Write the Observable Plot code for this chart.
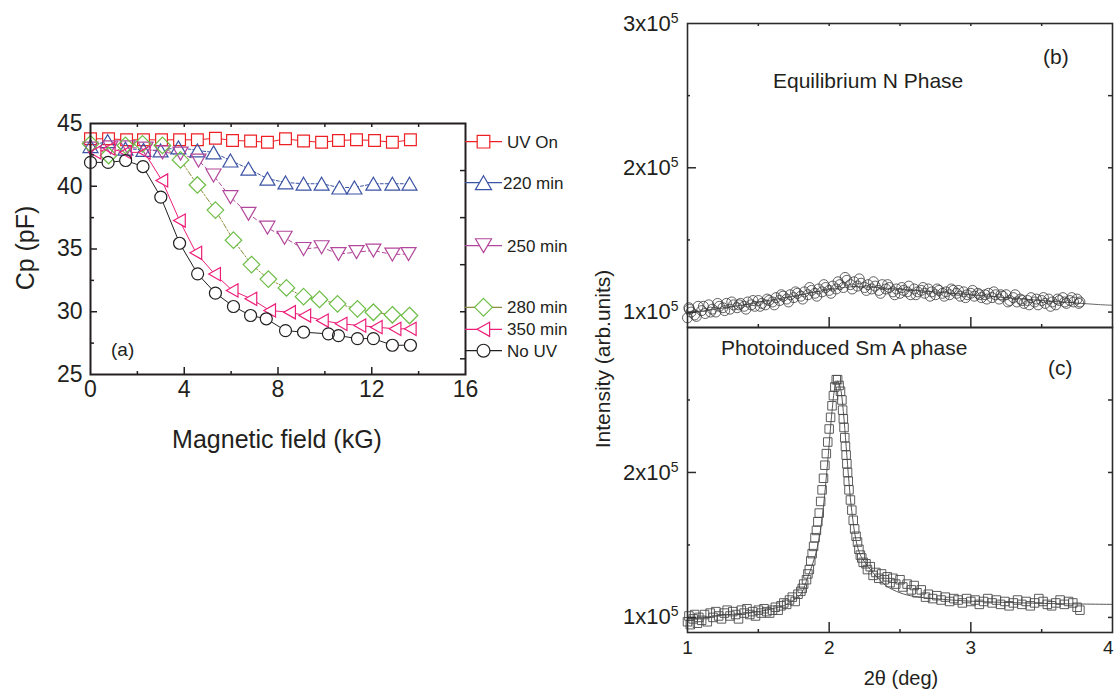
<!DOCTYPE html>
<html>
<head>
<meta charset="utf-8">
<script src="https://cdn.jsdelivr.net/npm/d3@7"></script>
<script src="https://cdn.jsdelivr.net/npm/@observablehq/plot@0.6"></script>
<style>
html,body{margin:0;padding:0;background:#fff;}
#root{position:relative;width:1114px;height:699px;overflow:hidden;background:#fff;font-family:"Liberation Sans",Arial,Helvetica,sans-serif;}
#root .panel{position:absolute;}
#root .panel svg{display:block;}
#overlay{position:absolute;left:0;top:0;pointer-events:none;}
</style>
</head>
<body>
<div id="root"></div>
<script>
// ================= DATA =================
// Panel (a): capacitance Cp (pF) vs magnetic field (kG)
const seriesLabels = ["UV On", "220 min", "250 min", "280 min", "350 min", "No UV"];

const fieldUVOn = [0,0.77,1.54,2.26,3.03,3.8,4.56,5.33,6.06,6.83,7.55,8.32,9.09,9.86,10.58,11.35,12.12,12.88,13.65];
const capUVOn   = [43.78,43.78,43.7,43.7,43.7,43.7,43.7,43.83,43.65,43.6,43.5,43.78,43.6,43.5,43.65,43.7,43.65,43.5,43.7];

const field220 = [0,0.73,1.49,2.26,2.99,3.75,4.56,5.25,5.97,6.74,7.55,8.32,9.09,9.86,10.62,11.26,12.07,12.88,13.61];
const cap220   = [43.2,43.6,43.0,42.9,42.85,43.1,42.85,42.7,42.05,41.4,40.6,40.3,40.2,40.2,39.9,39.9,40.2,40.2,40.2];

const field250 = [0,0.85,1.58,2.35,3.07,3.84,4.61,5.25,5.97,6.74,7.55,8.28,9.09,9.86,10.58,11.35,12.07,12.88,13.57];
const cap250   = [43.0,43.1,43.1,43.0,42.7,42.6,42.05,40.86,39.13,37.8,36.7,35.9,35.0,35.14,34.6,34.75,34.88,34.56,34.6];

const field280 = [0,0.77,1.49,2.22,3.07,3.84,4.56,5.33,6.1,6.87,7.59,8.36,9.09,9.77,10.54,11.39,12.07,12.88,13.61];
const cap280   = [43.38,42.45,43.25,43.38,43.25,42.1,40.1,38.1,35.7,33.76,32.6,31.9,31.2,30.98,30.63,30.23,29.96,29.76,29.7];

const field350 = [0.2,0.8,1.5,2.3,3.05,3.8,4.5,5.3,6.05,6.85,7.65,8.5,9.15,9.9,10.7,11.5,12.2,13.0,13.65];
const cap350   = [42.7,43.0,42.7,42.7,40.46,37.27,34.7,33.0,31.7,31.03,30.1,29.96,29.7,29.3,29.04,28.9,28.77,28.64,28.64];

const fieldNoUV = [0,0.75,1.5,2.24,3.0,3.8,4.57,5.33,6.1,6.83,7.5,8.32,9.09,10.15,10.58,11.39,12.07,12.88,13.65];
const capNoUV   = [41.9,41.9,42.05,41.57,39.13,35.46,33.02,31.48,30.42,29.7,29.44,28.5,28.37,28.24,28.1,27.86,27.86,27.33,27.33];

const fieldTicks = [0, 4, 8, 12, 16];
const fieldMinorTicks = [2, 6, 10, 14];
const fieldTopTicks = [2, 4, 6, 8, 10, 12, 14];
const capTicks = [25, 30, 35, 40, 45];
const capMinorTicks = [27.5, 32.5, 37.5, 42.5];
const capRightTicks = [26.25, 30, 33.75, 37.5, 41.25];

// Panel (b): equilibrium N phase, [2theta (deg), intensity (x10^5)]
const eqNScatter = [
[1.000,0.96],[1.010,1.03],[1.025,1.00],[1.050,0.98],[1.075,1.04],[1.100,1.01],[1.125,0.99],[1.150,1.05],[1.175,1.02],[1.200,1.00],
[1.225,1.04],[1.250,1.03],[1.275,1.06],[1.300,1.02],[1.325,1.05],[1.350,1.03],[1.375,1.06],[1.400,1.04],[1.425,1.07],[1.450,1.05],
[1.475,1.04],[1.500,1.08],[1.525,1.06],[1.550,1.05],[1.575,1.08],[1.600,1.07],[1.625,1.10],[1.650,1.08],[1.675,1.11],[1.700,1.09],
[1.725,1.12],[1.750,1.10],[1.775,1.13],[1.800,1.11],[1.825,1.14],[1.850,1.12],[1.875,1.15],[1.900,1.13],[1.925,1.16],[1.950,1.14],
[1.975,1.17],[2.000,1.15],[2.025,1.18],[2.050,1.16],[2.075,1.19],[2.100,1.17],[2.125,1.22],[2.150,1.19],[2.175,1.21],[2.200,1.18],
[2.225,1.20],[2.250,1.17],[2.275,1.19],[2.300,1.16],[2.325,1.18],[2.350,1.15],[2.375,1.19],[2.400,1.16],[2.425,1.17],[2.450,1.14],
[2.475,1.16],[2.500,1.13],[2.525,1.15],[2.550,1.14],[2.575,1.12],[2.600,1.16],[2.625,1.14],[2.650,1.15],[2.675,1.13],[2.700,1.16],
[2.725,1.14],[2.750,1.12],[2.775,1.15],[2.800,1.13],[2.825,1.14],[2.850,1.12],[2.875,1.15],[2.900,1.13],[2.925,1.11],[2.950,1.14],
[2.975,1.12],[3.000,1.13],[3.025,1.11],[3.050,1.13],[3.075,1.10],[3.100,1.12],[3.125,1.13],[3.150,1.10],[3.175,1.12],[3.200,1.09],
[3.225,1.11],[3.250,1.12],[3.275,1.08],[3.300,1.10],[3.325,1.07],[3.350,1.09],[3.375,1.06],[3.400,1.08],[3.425,1.10],[3.450,1.07],
[3.475,1.05],[3.500,1.08],[3.525,1.06],[3.550,1.09],[3.575,1.07],[3.600,1.05],[3.625,1.08],[3.650,1.10],[3.675,1.06],[3.700,1.08],
[3.725,1.07],[3.750,1.09],[3.770,1.07],
[1.0125,1.02],[1.0625,0.97],[1.1125,1.04],[1.1625,1.00],[1.2125,1.06],[1.2625,1.01],[1.3125,1.07],[1.3625,1.05],[1.4125,1.02],[1.4625,1.08],
[1.5125,1.04],[1.5625,1.09],[1.6125,1.05],[1.6625,1.12],[1.7125,1.07],[1.7625,1.14],[1.8125,1.09],[1.8625,1.17],[1.9125,1.11],[1.9625,1.19],
[2.0125,1.13],[2.0625,1.21],[2.1125,1.24],[2.1625,1.16],[2.2125,1.23],[2.2625,1.15],[2.3125,1.21],[2.3625,1.13],[2.4125,1.19],[2.4625,1.12],
[2.5125,1.17],[2.5625,1.18],[2.6125,1.12],[2.6625,1.17],[2.7125,1.11],[2.7625,1.16],[2.8125,1.11],[2.8625,1.16],[2.9125,1.15],[2.9625,1.10],
[3.0125,1.15],[3.0625,1.12],[3.1125,1.09],[3.1625,1.14],[3.2125,1.12],[3.2625,1.07],[3.3125,1.12],[3.3625,1.08],[3.4125,1.05],[3.4625,1.09],
[3.5125,1.10],[3.5625,1.04],[3.6125,1.09],[3.6625,1.07],[3.7125,1.10],[3.7625,1.06]
];
const eqNFit = [[1.0,0.99],[1.2,1.02],[1.4,1.05],[1.6,1.085],[1.8,1.12],[2.0,1.155],[2.15,1.175],[2.3,1.172],[2.5,1.158],[2.7,1.143],
[2.9,1.128],[3.1,1.112],[3.3,1.096],[3.5,1.08],[3.7,1.066],[3.9,1.052],[4.0,1.047]];

// Panel (c): photoinduced Sm A phase, [2theta (deg), intensity (x10^5)]
const smAScatter = [
[1.00,0.97],[1.01,1.01],[1.02,0.95],[1.04,0.99],[1.05,1.02],[1.07,0.96],[1.08,1.00],[1.10,0.98],[1.12,1.02],[1.14,0.97],
[1.16,1.03],[1.18,1.00],[1.20,1.04],[1.22,1.01],[1.24,0.99],[1.26,1.03],[1.28,1.05],[1.30,1.01],[1.32,1.04],[1.34,1.02],
[1.36,0.99],[1.38,1.05],[1.40,1.03],[1.42,1.06],[1.44,1.02],[1.46,1.04],[1.48,1.01],[1.50,1.05],[1.52,1.03],[1.54,1.06],
[1.56,1.04],[1.58,1.03],[1.60,1.05],[1.62,1.07],[1.64,1.05],[1.66,1.08],[1.68,1.10],[1.70,1.09],[1.72,1.12],[1.74,1.14],
[1.76,1.11],[1.78,1.16],[1.80,1.18],[1.81,1.20],[1.82,1.23],[1.84,1.26],[1.85,1.30],[1.86,1.33],[1.87,1.39],[1.88,1.44],
[1.89,1.49],[1.90,1.55],[1.91,1.60],[1.92,1.66],[1.93,1.72],[1.94,1.80],[1.95,1.88],[1.96,1.96],[1.97,2.05],[1.98,2.13],
[1.99,2.21],[2.00,2.30],[2.01,2.38],[2.02,2.46],[2.03,2.53],[2.04,2.59],[2.05,2.64],[2.06,2.64],[2.07,2.60],[2.08,2.56],
[2.09,2.50],[2.095,2.43],[2.10,2.37],[2.105,2.31],[2.11,2.24],[2.115,2.18],[2.12,2.12],[2.125,2.06],[2.13,2.00],[2.135,1.94],
[2.14,1.88],[2.15,1.81],[2.16,1.74],[2.17,1.67],[2.18,1.61],[2.19,1.56],[2.20,1.52],[2.21,1.47],[2.22,1.43],[2.23,1.41],
[2.24,1.38],[2.26,1.37],[2.27,1.33],[2.29,1.35],[2.31,1.29],[2.33,1.31],[2.35,1.27],[2.37,1.30],[2.39,1.26],[2.41,1.28],
[2.43,1.24],[2.45,1.27],[2.47,1.23],[2.50,1.26],[2.52,1.21],[2.55,1.23],[2.58,1.19],[2.60,1.22],[2.62,1.17],[2.65,1.19],
[2.68,1.14],[2.70,1.16],[2.73,1.13],[2.76,1.15],[2.79,1.12],[2.82,1.14],[2.85,1.11],[2.88,1.13],[2.91,1.12],[2.94,1.10],
[2.97,1.13],[3.00,1.11],[3.03,1.12],[3.06,1.09],[3.09,1.11],[3.12,1.13],[3.15,1.10],[3.18,1.12],[3.21,1.09],[3.24,1.11],
[3.27,1.08],[3.30,1.10],[3.33,1.12],[3.36,1.09],[3.39,1.11],[3.42,1.08],[3.45,1.10],[3.48,1.13],[3.51,1.11],[3.54,1.09],
[3.57,1.08],[3.60,1.10],[3.63,1.12],[3.66,1.09],[3.69,1.11],[3.72,1.10],[3.75,1.07],[3.77,1.05]
];
const smAFit = [[1.0,0.99],[1.2,1.01],[1.4,1.03],[1.5,1.04],[1.6,1.06],[1.7,1.09],[1.75,1.12],[1.8,1.16],[1.85,1.28],[1.9,1.42],
[1.93,1.55],[1.96,1.77],[1.99,2.08],[2.02,2.42],[2.04,2.58],[2.06,2.63],[2.08,2.58],[2.1,2.42],[2.12,2.18],[2.14,1.93],
[2.16,1.73],[2.19,1.53],[2.22,1.43],[2.26,1.37],[2.3,1.32],[2.4,1.22],[2.5,1.17],[2.6,1.145],[2.8,1.125],[3.0,1.112],
[3.3,1.102],[3.6,1.095],[4.0,1.09]];

const thetaTicks = [1, 2, 3, 4];
const thetaMajorInner = [2, 3];
const thetaMinorTicks = [1.5, 2.5, 3.5];
const thetaTopTicks = [1.5, 2, 2.5, 3, 3.5];
const intensityTicks = [1, 2, 3];
const intensityTickLabels = ["1x10^5", "2x10^5", "3x10^5"];
const intensityMinorTicks = [1.5, 2.5];
const intensityRightTicks = [1, 1.5, 2, 2.5];

// ================= HELPERS =================
const root = document.getElementById("root");
const fontFamily = '"Liberation Sans", Arial, Helvetica, sans-serif';
const ink = "#231f20";

function mountPanel(svg, left, top, width) {
  const d = document.createElement("div");
  d.className = "panel";
  d.style.left = left + "px";
  d.style.top = top + "px";
  d.style.width = width + "px";
  d.appendChild(svg);
  root.appendChild(d);
}
function polySymbol(pts) {
  return {
    draw(ctx, size) {
      const R = Math.sqrt(size / Math.PI);
      pts.forEach(([px, py], i) => i === 0 ? ctx.moveTo(px * R, py * R) : ctx.lineTo(px * R, py * R));
      ctx.closePath();
    }
  };
}
const symSquare = polySymbol([[-0.98,-0.98],[0.98,-0.98],[0.98,0.98],[-0.98,0.98]]);
const symUp = polySymbol([[0,-1.08],[1.25,1.08],[-1.25,1.08]]);
const symDown = polySymbol([[0,1.08],[1.25,-1.08],[-1.25,-1.08]]);
const symDiamond = polySymbol([[0,-1.38],[1.38,0],[0,1.38],[-1.38,0]]);
const symLeft = polySymbol([[-1.0,0],[0.95,-1.1],[0.95,1.1]]);
const symCircle = d3.symbolCircle;

function superscriptTicks(svg) {
  d3.select(svg).selectAll("text").each(function () {
    const t = this.textContent;
    if (t.includes("^")) {
      const [base, exp] = t.split("^");
      this.textContent = base;
      d3.select(this).append("tspan").attr("dy", "-8px").attr("font-size", "14px").text(exp);
    }
  });
}

// ================= PANEL (a) =================
const seriesA = [
  {x: fieldUVOn, y: capUVOn, color: "#ed2024", line: "#ed2024", dash: null, symbol: symSquare},
  {x: field220, y: cap220, color: "#3a53a4", line: "#3a53a4", dash: "3,2", symbol: symUp},
  {x: field250, y: cap250, color: "#b2479b", line: "#b2479b", dash: "4,3", symbol: symDown},
  {x: field280, y: cap280, color: "#6cbd45", line: "#8c8c3c", dash: "5,2,1.5,2", symbol: symDiamond},
  {x: field350, y: cap350, color: "#ec1e79", line: "#ec1e79", dash: null, symbol: symLeft},
  {x: fieldNoUV, y: capNoUV, color: ink, line: ink, dash: null, symbol: symCircle}
].map((s, k) => ({...s, label: seriesLabels[k], rows: s.x.map((x, i) => ({x, y: s.y[i]}))}));

const aW = 470, aH = 410, aML = 90, aMR = 5, aMT = 123, aMB = 36;
const aIW = aW - aML - aMR, aIH = aH - aMT - aMB;

const marksA = [];
for (const s of seriesA) marksA.push(Plot.line(s.rows, {x: "x", y: "y", stroke: s.line, strokeWidth: 1, ...(s.dash ? {strokeDasharray: s.dash} : {})}));
for (const s of seriesA) marksA.push(Plot.dot(s.rows, {x: "x", y: "y", symbol: s.symbol, r: 6, fill: "white", stroke: "none"}));
for (const s of seriesA) marksA.push(Plot.dot(s.rows, {x: "x", y: "y", symbol: s.symbol, r: 6, fill: "none", stroke: s.color, strokeWidth: 1.2}));

const plotA = Plot.plot({
  width: aW, height: aH, marginLeft: aML, marginRight: aMR, marginTop: aMT, marginBottom: aMB,
  style: {fontFamily, fontSize: "23px", color: ink, background: "transparent", overflow: "visible"},
  x: {domain: [0, 16]},
  y: {domain: [25, 45]},
  marks: [
    ...marksA,
    Plot.ruleX(fieldTicks.slice(1, -1), {insetTop: aIH - 7, stroke: ink, strokeWidth: 1.5}),
    Plot.ruleX(fieldMinorTicks, {insetTop: aIH - 3, stroke: ink, strokeWidth: 1.5}),
    Plot.ruleX(fieldTopTicks, {insetBottom: aIH - 4, stroke: ink, strokeWidth: 1.5}),
    Plot.ruleY(capTicks.slice(1, -1), {insetRight: aIW - 7, stroke: ink, strokeWidth: 1.5}),
    Plot.ruleY(capMinorTicks, {insetRight: aIW - 4, stroke: ink, strokeWidth: 1.5}),
    Plot.ruleY(capRightTicks, {insetLeft: aIW - 5, stroke: ink, strokeWidth: 1.5}),
    Plot.axisX({ticks: fieldTicks, tickSize: 0, tickPadding: 6, fontSize: 23, label: null}),
    Plot.axisY({ticks: capTicks, tickSize: 0, tickPadding: 8, fontSize: 23, label: null}),
    Plot.frame({stroke: ink, strokeWidth: 2})
  ]
});
mountPanel(plotA, 0, 0, aW);

// ================= PANEL (b) =================
const bW = 524, bH = 328, bML = 97, bMR = 2, bMT = 23, bMB = 1;
const bIW = bW - bML - bMR, bIH = bH - bMT - bMB;
const frameInk = "#2b2b2b";
const plotB = Plot.plot({
  width: bW, height: bH, marginLeft: bML, marginRight: bMR, marginTop: bMT, marginBottom: bMB,
  style: {fontFamily, fontSize: "22px", color: ink, background: "transparent", overflow: "visible"},
  x: {domain: [1, 4], axis: null},
  y: {domain: [0.893, 3.0]},
  marks: [
    Plot.line(eqNFit, {x: d => d[0], y: d => d[1], stroke: "#555", strokeWidth: 0.9, curve: "catmull-rom"}),
    Plot.dot(eqNScatter, {x: d => d[0], y: d => d[1], r: 5, stroke: "#3a3a3a", strokeWidth: 0.8, fill: "none"}),
    Plot.ruleX(thetaMajorInner, {insetTop: bIH - 10, stroke: frameInk, strokeWidth: 1.5}),
    Plot.ruleX(thetaMinorTicks, {insetTop: bIH - 3, stroke: frameInk, strokeWidth: 1.5}),
    Plot.ruleX(thetaTopTicks, {insetBottom: bIH - 3, stroke: frameInk, strokeWidth: 1.5}),
    Plot.ruleY([1, 2], {insetRight: bIW - 9, stroke: frameInk, strokeWidth: 1.5}),
    Plot.ruleY(intensityMinorTicks, {insetRight: bIW - 3, stroke: frameInk, strokeWidth: 1.5}),
    Plot.ruleY(intensityRightTicks, {insetLeft: bIW - 4, stroke: frameInk, strokeWidth: 1.5}),
    Plot.axisY({ticks: intensityTicks, tickSize: 0, tickPadding: 9, fontSize: 22, label: null,
      tickFormat: d => intensityTickLabels[intensityTicks.indexOf(d)]}),
    Plot.frame({stroke: frameInk, strokeWidth: 1.6})
  ]
});
superscriptTicks(plotB);
mountPanel(plotB, 590, 0, bW);

// ================= PANEL (c) =================
const cW = 524, cH = 399, cML = 97, cMR = 2, cMT = 27, cMB = 67;
const cIW = cW - cML - cMR, cIH = cH - cMT - cMB;
const intFormat = d3.format("d");
const plotC = Plot.plot({
  width: cW, height: cH, marginLeft: cML, marginRight: cMR, marginTop: cMT, marginBottom: cMB,
  style: {fontFamily, fontSize: "22px", color: ink, background: "transparent", overflow: "visible"},
  x: {domain: [1, 4]},
  y: {domain: [0.896, 3.0]},
  marks: [
    Plot.line(smAFit, {x: d => d[0], y: d => d[1], stroke: "#444", strokeWidth: 0.9, curve: "catmull-rom"}),
    Plot.dot(smAScatter, {x: d => d[0], y: d => d[1], symbol: "square", r: 4.8, stroke: "#4a4a4a", strokeWidth: 0.9, fill: "none"}),
    Plot.ruleX(thetaMajorInner, {insetTop: cIH - 10, stroke: frameInk, strokeWidth: 1.5}),
    Plot.ruleX(thetaMinorTicks, {insetTop: cIH - 3, stroke: frameInk, strokeWidth: 1.5}),
    Plot.ruleY([1, 2], {insetRight: cIW - 9, stroke: frameInk, strokeWidth: 1.5}),
    Plot.ruleY(intensityMinorTicks, {insetRight: cIW - 3, stroke: frameInk, strokeWidth: 1.5}),
    Plot.ruleY(intensityRightTicks, {insetLeft: cIW - 4, stroke: frameInk, strokeWidth: 1.5}),
    Plot.axisY({ticks: [1, 2], tickSize: 0, tickPadding: 9, fontSize: 22, label: null,
      tickFormat: d => intensityTickLabels[intensityTicks.indexOf(d)]}),
    Plot.axisX({ticks: thetaTicks.slice(0, -1), tickSize: 0, tickPadding: 8, fontSize: 19, label: null, tickFormat: intFormat}),
    Plot.axisX({ticks: thetaTicks.slice(-1), tickSize: 0, tickPadding: 8, fontSize: 19, label: null, tickFormat: intFormat,
      textAnchor: "end", dx: 1}),
    Plot.frame({stroke: frameInk, strokeWidth: 1.6})
  ]
});
superscriptTicks(plotC);
mountPanel(plotC, 590, 300, cW);

// ================= OVERLAY: titles, annotations, legend =================
const overlay = d3.create("svg").attr("id", "overlay").attr("width", 1114).attr("height", 699)
  .attr("font-family", fontFamily).attr("fill", ink);
const labels = [
  {t: "Cp (pF)", x: 34, y: 248, size: 25, rotate: true, anchor: "middle"},
  {t: "Magnetic field (kG)", x: 277, y: 448, size: 25, anchor: "middle"},
  {t: "(a)", x: 111, y: 356, size: 19, anchor: "start"},
  {t: "Intensity (arb.units)", x: 610, y: 359, size: 21, rotate: true, anchor: "middle"},
  {t: "2θ (deg)", x: 901, y: 685, size: 20, anchor: "middle"},
  {t: "Equilibrium N Phase", x: 773, y: 88, size: 21, anchor: "start"},
  {t: "(b)", x: 1043, y: 64, size: 21, anchor: "start"},
  {t: "Photoinduced Sm A phase", x: 721, y: 355, size: 21, anchor: "start"},
  {t: "(c)", x: 1048, y: 375, size: 21, anchor: "start"}
];
for (const L of labels) {
  overlay.append("text")
    .attr("transform", L.rotate ? `translate(${L.x},${L.y}) rotate(-90)` : `translate(${L.x},${L.y})`)
    .attr("text-anchor", L.anchor).attr("font-size", L.size).text(L.t);
}
// legend for panel (a)
const legendRowY = [141.7, 182.7, 245.7, 307.3, 329.3, 350.7];
seriesA.forEach((s, i) => {
  const y = legendRowY[i];
  const g = overlay.append("g");
  g.append("line").attr("x1", 465).attr("x2", 502).attr("y1", y).attr("y2", y)
    .attr("stroke", s.line).attr("stroke-width", 1.3);
  g.append("path").attr("d", d3.symbol(s.symbol, Math.PI * 36 * 1.15)())
    .attr("transform", `translate(483.5,${y})`).attr("fill", "white").attr("stroke", s.color).attr("stroke-width", 1.2);
  g.append("text").attr("x", i === 1 ? 503 : 507).attr("y", y + 6).attr("font-size", 17).text(s.label);
});
root.appendChild(overlay.node());
</script>
</body>
</html>
